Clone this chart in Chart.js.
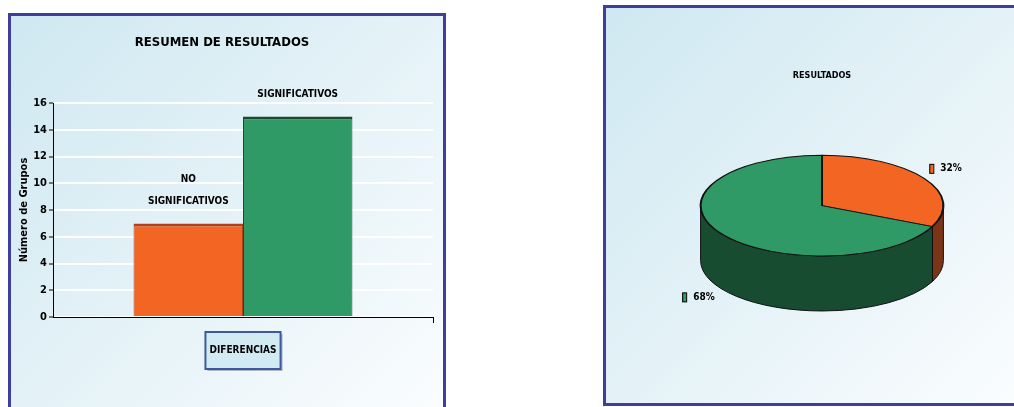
<!DOCTYPE html>
<html>
<head>
<meta charset="utf-8">
<script src="https://cdn.jsdelivr.net/npm/chart.js@4.4.1/dist/chart.umd.min.js"></script>
<style>
  body { margin: 0; width: 1014px; height: 407px; overflow: hidden; background: #fff; position: relative; }
  .panel {
    position: absolute;
    border: 3px solid #3e3e9e;
    background: linear-gradient(135deg, #cfe8f1 0%, #e4f2f7 50%, #fbfdfe 100%);
  }
  #left { left: 8px; top: 13px; width: 432px; height: 400px; }
  #right { left: 603px; top: 5px; width: 420px; height: 395px; border-right: none; }
  canvas { position: absolute; left: 0; top: 0; }
</style>
</head>
<body>
<div class="panel" id="left"><canvas id="bars" width="432" height="394"></canvas></div>
<div class="panel" id="right"><canvas id="pie" width="408" height="395"></canvas></div>
<script>
const FONT = "'Liberation Sans Narrow', 'DejaVu Sans Condensed', 'Arial Narrow', sans-serif";

// data
const categories = ["DIFERENCIAS"];
const seriesNames = ["NO SIGNIFICATIVOS", "SIGNIFICATIVOS"];
const seriesLabelLines = [["NO", "SIGNIFICATIVOS"], ["SIGNIFICATIVOS"]];
const groupCounts = [7, 15];
const seriesColors = ["#f26522", "#2f9a66"];
const seriesEdgeColors = ["#b43d1b", "#1b4a2f"];
const sideColors = ["#7a3416", "#184c30"];

// --- left: bar chart ---
const barLabels = {
  id: "barLabels",
  afterDatasetsDraw(chart) {
    const ctx = chart.ctx;
    ctx.save();
    ctx.font = "bold 10px " + FONT;
    ctx.fillStyle = "#000";
    ctx.textAlign = "center";
    ctx.textBaseline = "middle";
    chart.data.datasets.forEach((ds, i) => {
      const bar = chart.getDatasetMeta(i).data[0];
      const lines = seriesLabelLines[i];
      lines.forEach((t, j) => {
        const y = bar.y - 22 - (lines.length - 1 - j) * 22;
        ctx.fillText(t, bar.x, y);
      });
    });
    ctx.restore();
  }
};

const axisBox = {
  id: "axisBox",
  beforeDraw(chart) {
    const ctx = chart.ctx;
    const xs = chart.scales.x;
    const cx = xs.getPixelForTick(0);
    const cy = 334.5;
    ctx.save();
    ctx.font = "bold 10px " + FONT;
    const w = ctx.measureText(categories[0]).width + 8;
    const h = 37;
    ctx.fillStyle = "rgba(60,60,90,0.35)";
    ctx.fillRect(cx - w / 2 + 2, cy - h / 2 + 2, w, h);
    ctx.fillStyle = "#d2ebf3";
    ctx.fillRect(cx - w / 2, cy - h / 2, w, h);
    ctx.strokeStyle = "#3c5aa0";
    ctx.lineWidth = 2;
    ctx.strokeRect(cx - w / 2, cy - h / 2, w, h);
    // end tick on the right of the category axis
    ctx.strokeStyle = "#000";
    ctx.lineWidth = 1;
    ctx.beginPath();
    ctx.moveTo(chart.chartArea.right + 0.5, chart.chartArea.bottom);
    ctx.lineTo(chart.chartArea.right + 0.5, chart.chartArea.bottom + 6);
    ctx.stroke();
    ctx.restore();
  }
};

new Chart(document.getElementById("bars"), {
  type: "bar",
  data: {
    labels: categories,
    datasets: seriesNames.map((name, i) => ({
      label: name,
      data: [groupCounts[i]],
      backgroundColor: seriesColors[i],
      borderColor: seriesEdgeColors[i],
      borderWidth: { top: 3, left: 1, right: 1, bottom: 0 },
      borderSkipped: "start",
      categoryPercentage: 0.576,
      barPercentage: 1
    }))
  },
  options: {
    responsive: false,
    animation: false,
    layout: { padding: { left: 0, right: 10, top: 0, bottom: 0 } },
    plugins: {
      legend: { display: false },
      tooltip: { enabled: false },
      title: {
        display: true,
        text: "RESUMEN DE RESULTADOS",
        color: "#000",
        font: { family: FONT, size: 13, weight: "bold" },
        padding: { top: 19, bottom: 52.4 }
      }
    },
    scales: {
      x: {
        afterFit: (s) => { s.height = 93; },
        grid: { display: false, drawTicks: false },
        border: { display: true, color: "#000", width: 1 },
        ticks: { color: "#000", font: { family: FONT, size: 10, weight: "bold" }, padding: 27 }
      },
      y: {
        min: 0,
        max: 16,
        afterFit: (s) => { s.width = 42; },
        ticks: { stepSize: 2, color: "#000", padding: 2, font: { family: FONT, size: 11, weight: "bold" } },
        grid: { color: "#ffffff", lineWidth: 2, tickColor: "#000", tickLength: 4, tickWidth: 1 },
        border: { display: true, color: "#000", width: 1 },
        title: {
          display: true,
          text: "Número de Grupos",
          color: "#000",
          font: { family: FONT, size: 11, weight: "bold" },
          padding: { top: 7, bottom: 0 }
        }
      }
    }
  },
  plugins: [axisBox, barLabels]
});

// --- right: flattened pie with depth ---
const SQUASH = 0.415;
const DEPTH = 55;

const pie3d = {
  id: "pie3d",
  beforeDatasetsDraw(chart) {
    const ctx = chart.ctx;
    const arcs = chart.getDatasetMeta(0).data;
    const cx = arcs[0].x, cy = arcs[0].y;
    const rx = arcs[0].outerRadius, ry = rx * SQUASH;
    ctx.save();
    arcs.forEach((arc, i) => {
      const a = Math.max(arc.startAngle, 0);
      const b = Math.min(arc.endAngle, Math.PI);
      if (b <= a) return;
      ctx.beginPath();
      ctx.ellipse(cx, cy, rx, ry, 0, a, b);
      ctx.lineTo(cx + rx * Math.cos(b), cy + ry * Math.sin(b) + DEPTH);
      ctx.ellipse(cx, cy + DEPTH, rx, ry, 0, b, a, true);
      ctx.closePath();
      ctx.fillStyle = sideColors[i];
      ctx.fill();
      ctx.strokeStyle = "#111";
      ctx.lineWidth = 1;
      ctx.stroke();
    });
    ctx.translate(cx, cy);
    ctx.scale(1, SQUASH);
    ctx.translate(-cx, -cy);
  },
  afterDatasetsDraw(chart) {
    chart.ctx.restore();
  },
  afterDraw(chart) {
    const ctx = chart.ctx;
    const arcs = chart.getDatasetMeta(0).data;
    const total = groupCounts.reduce((a, b) => a + b, 0);
    ctx.save();
    ctx.font = "bold 10px " + FONT;
    ctx.textBaseline = "middle";
    arcs.forEach((arc, i) => {
      const mid = (arc.startAngle + arc.endAngle) / 2;
      const r = arc.outerRadius;
      const s = Math.sin(mid);
      const px = arc.x + 1.21 * r * Math.cos(mid);
      const py = arc.y + 1.35 * r * SQUASH * s + (s > 0 ? DEPTH : 0);
      const text = Math.round(groupCounts[i] / total * 100) + "%";
      const tw = ctx.measureText(text).width;
      const gw = 4 + 7 + tw;
      const left = px - gw / 2;
      ctx.fillStyle = seriesColors[i];
      ctx.fillRect(left, py - 4.5, 4, 9);
      ctx.strokeStyle = "#000";
      ctx.lineWidth = 1;
      ctx.strokeRect(left + 0.5, py - 4.5, 4, 9);
      ctx.fillStyle = "#000";
      ctx.textAlign = "left";
      ctx.fillText(text, left + 11, py);
    });
    ctx.restore();
  }
};

new Chart(document.getElementById("pie"), {
  type: "pie",
  data: {
    labels: seriesNames,
    datasets: [{
      data: groupCounts,
      backgroundColor: seriesColors,
      borderColor: "#111",
      borderWidth: 2
    }]
  },
  options: {
    responsive: false,
    animation: false,
    layout: { padding: { left: 93, right: 69, top: 0, bottom: 75 } },
    plugins: {
      legend: { display: false },
      tooltip: { enabled: false },
      title: {
        display: true,
        text: "RESULTADOS",
        color: "#000",
        font: { family: FONT, size: 9, weight: "bold" },
        padding: { top: 62, bottom: 2.4 }
      }
    }
  },
  plugins: [pie3d]
});
</script>
</body>
</html>
